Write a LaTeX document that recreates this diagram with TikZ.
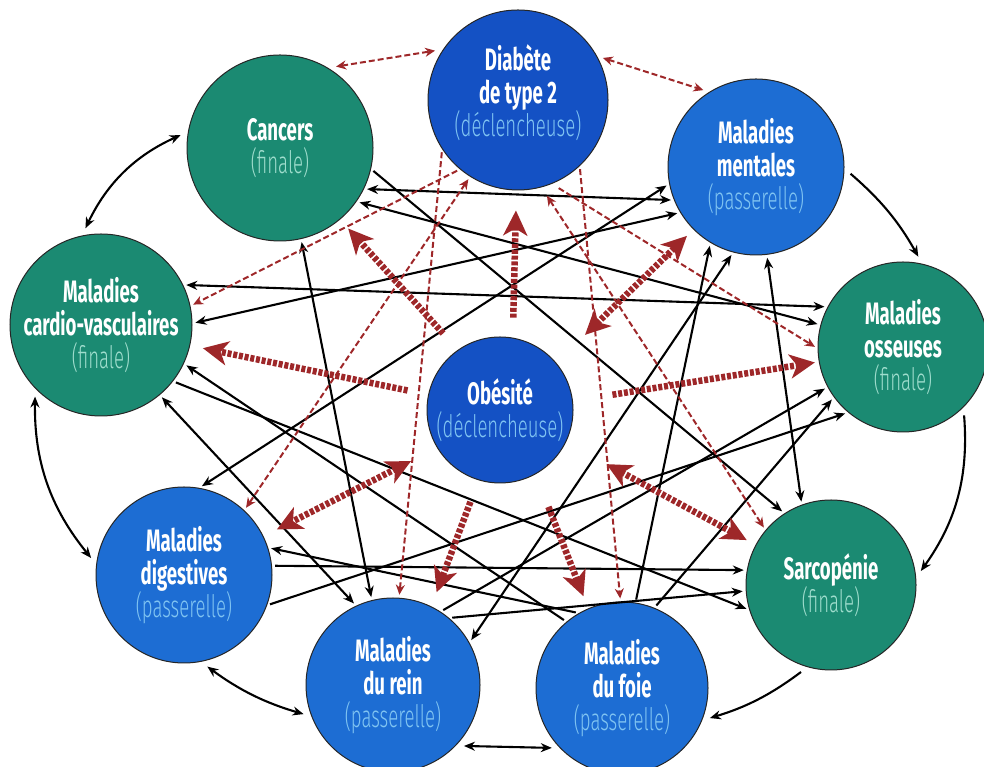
\documentclass[tikz,border=0pt]{standalone}
\usepackage{fontspec}
\setmainfont{Fira Sans}[FakeStretch=0.6]
\newfontfamily\lightfont{Fira Sans Light}[FakeStretch=0.6]
\usetikzlibrary{arrows.meta}
\definecolor{greenfinal}{HTML}{1B8A72}
\definecolor{darkblue}{HTML}{1451C4}
\definecolor{midblue}{HTML}{1D6DD3}
\definecolor{subblue}{HTML}{80C4F2}
\definecolor{subgreen}{HTML}{9FDDCD}
\definecolor{darkred}{HTML}{9E2729}
\newcommand{\subb}[1]{{\lightfont\mdseries\color{subblue}#1}}
\newcommand{\subg}[1]{{\lightfont\mdseries\color{subgreen}#1}}

\begin{document}
\begin{tikzpicture}[x=1pt, y=1pt]
    % Styles
    \tikzstyle{disease} = [draw=black!85, line width=1pt, circle, inner sep=0pt, align=center, text=white, font=\fontsize{31}{33}\selectfont\bfseries]
    \tikzstyle{trigger} = [disease, fill=darkblue]
    \tikzstyle{bridge} = [disease, fill=midblue]
    \tikzstyle{final} = [disease, fill=greenfinal]
    \tikzstyle{link} = [draw, line width=2.1pt, -{Stealth[length=11pt,width=9pt]}, shorten >=3pt, shorten <=3pt]
    \tikzstyle{blink} = [link, {Stealth[length=11pt,width=9pt]}-{Stealth[length=11pt,width=9pt]}]
    \tikzstyle{outer} = [shorten >=8pt, shorten <=8pt]
    \tikzstyle{thinred} = [draw=darkred, line width=2pt, dash pattern=on 6pt off 3pt, -{Stealth[length=10pt,width=9pt]}, shorten >=3pt, shorten <=3pt]
    \tikzstyle{bthinred} = [thinred, {Stealth[length=10pt,width=9pt]}-{Stealth[length=10pt,width=9pt]}]
    \tikzstyle{bigred} = [draw=darkred, line width=6.5pt, dash pattern=on 4pt off 1.8pt, -{Stealth[length=25pt,width=24pt,inset=7pt]}]
    \tikzstyle{bbigred} = [bigred, {Stealth[length=25pt,width=24pt,inset=7pt]}-{Stealth[length=25pt,width=24pt,inset=7pt]}]

    \useasboundingbox (0,0) rectangle (984,767);

    % Nodes
    \node[trigger, minimum size=180pt] (D) at (518,667) {Diabète\\de type 2\\\subb{(déclencheuse)}\\[-14pt]};
    \node[final, minimum size=186pt] (C) at (280,619) {Cancers\\\subg{(finale)}};
    \node[bridge, minimum size=176pt] (M) at (756,600) {Maladies\\mentales\\\subb{(passerelle)}};
    \node[final, minimum size=170pt] (O) at (903,420) {Maladies\\osseuses\\\subg{(finale)}};
    \node[final, minimum size=182pt] (CV) at (101,442) {Maladies\\cardio-vasculaires\\\subg{(finale)}};
    \node[trigger, minimum size=146pt] (Ob) at (500,357) {Obésité\\\subb{(déclencheuse)}};
    \node[bridge, minimum size=176pt] (Dg) at (184,192) {Maladies\\digestives\\\subb{(passerelle)}};
    \node[bridge, minimum size=174pt] (R) at (393,82) {Maladies\\du rein\\\subb{(passerelle)}};
    \node[bridge, minimum size=172pt] (F) at (622,79) {Maladies\\du foie\\\subb{(passerelle)}};
    \node[final, minimum size=170pt] (S) at (831,182) {Sarcopénie\\\subg{(finale)}};

    % Outer ring
    \draw[blink, outer] (C.170) to[bend right=20] (CV.102);
    \draw[blink, outer] (CV.224) to[bend right=20] (Dg.173);
    \draw[blink, outer] (Dg.-79) to[bend right=10] (R.201);
    \draw[blink, outer] (R.-44) -- (F.224);
    \draw[link, outer] (S.254) to[bend left=10] (F.-22);
    \draw[link, outer] (O.-45) to[bend left=20] (S.5);
    \draw[link, outer] (M.-1) to[bend left=10] (O.77);
    \draw[bthinred, shorten <=8pt, shorten >=8pt] (C.59) -- (D.146);
    \draw[bthinred, shorten <=6pt, shorten >=6pt] (D.29) -- (M.122);

    % Black links
    \draw[blink] (C.-26) -- (M.202);
    \draw[blink] (C.-35) -- (O.165);
    \draw[link] (C.-13) -- (S.123);
    \draw[blink] (C.-77) -- (R.104);
    \draw[blink] (CV.26) -- (O.152);
    \draw[blink] (CV.1) -- (M.211);
    \draw[blink] (Dg.80) -- (M.191);
    \draw[blink] (CV.-50) -- (R.115);
    \draw[link] (CV.-38) -- (S.197);
    \draw[link] (F.130) -- (CV.-25);
    \draw[link] (Dg.6) -- (S.170);
    \draw[link] (Dg.-20) -- (O.230);
    \draw[link] (F.120) -- (Dg.18);
    \draw[link] (R.57) -- (O.208);
    \draw[link] (R.50) -- (S.184);
    \draw[blink] (R.29) -- (M.255);
    \draw[link] (F.81) -- (M.239);
    \draw[link] (F.68) -- (O.216);
    \draw[blink] (M.-83) -- (S.110);

    % Diabete links
    \draw[thinred] (D.230) -- (CV.12);
    \draw[bthinred] (D.238) -- (Dg.47);
    \draw[thinred] (D.213) -- (R.86);
    \draw[thinred] (D.-47) -- (F.91);
    \draw[bthinred, shorten <=10pt] (D.-75) -- (S.140);
    \draw[thinred, shorten <=8pt] (D.-68) -- (O.181);

    % Obesite links
    \draw[bigred, shorten <=20pt, shorten >=20pt] (Ob.80) -- (D.269);
    \draw[bigred, shorten <=22pt, shorten >=12pt] (Ob.125) -- (C.-50);
    \draw[bbigred, shorten <=40pt, shorten >=9pt] (Ob.40) -- (M.225);
    \draw[bigred, shorten <=21pt, shorten >=13pt] (Ob.168) -- (CV.-13);
    \draw[bigred, shorten <=40pt, shorten >=4pt] (Ob.7) -- (O.190);
    \draw[bbigred, shorten <=29pt, shorten >=15pt] (Ob.211) -- (Dg.26);
    \draw[bigred, shorten <=23pt, shorten >=15pt] (Ob.253) -- (R.64);
    \draw[bigred, shorten <=35pt, shorten >=13pt] (Ob.-61) -- (F.113);
    \draw[bbigred, shorten <=46pt, shorten >=10pt] (Ob.-26) -- (S.152);
\end{tikzpicture}
\end{document}
